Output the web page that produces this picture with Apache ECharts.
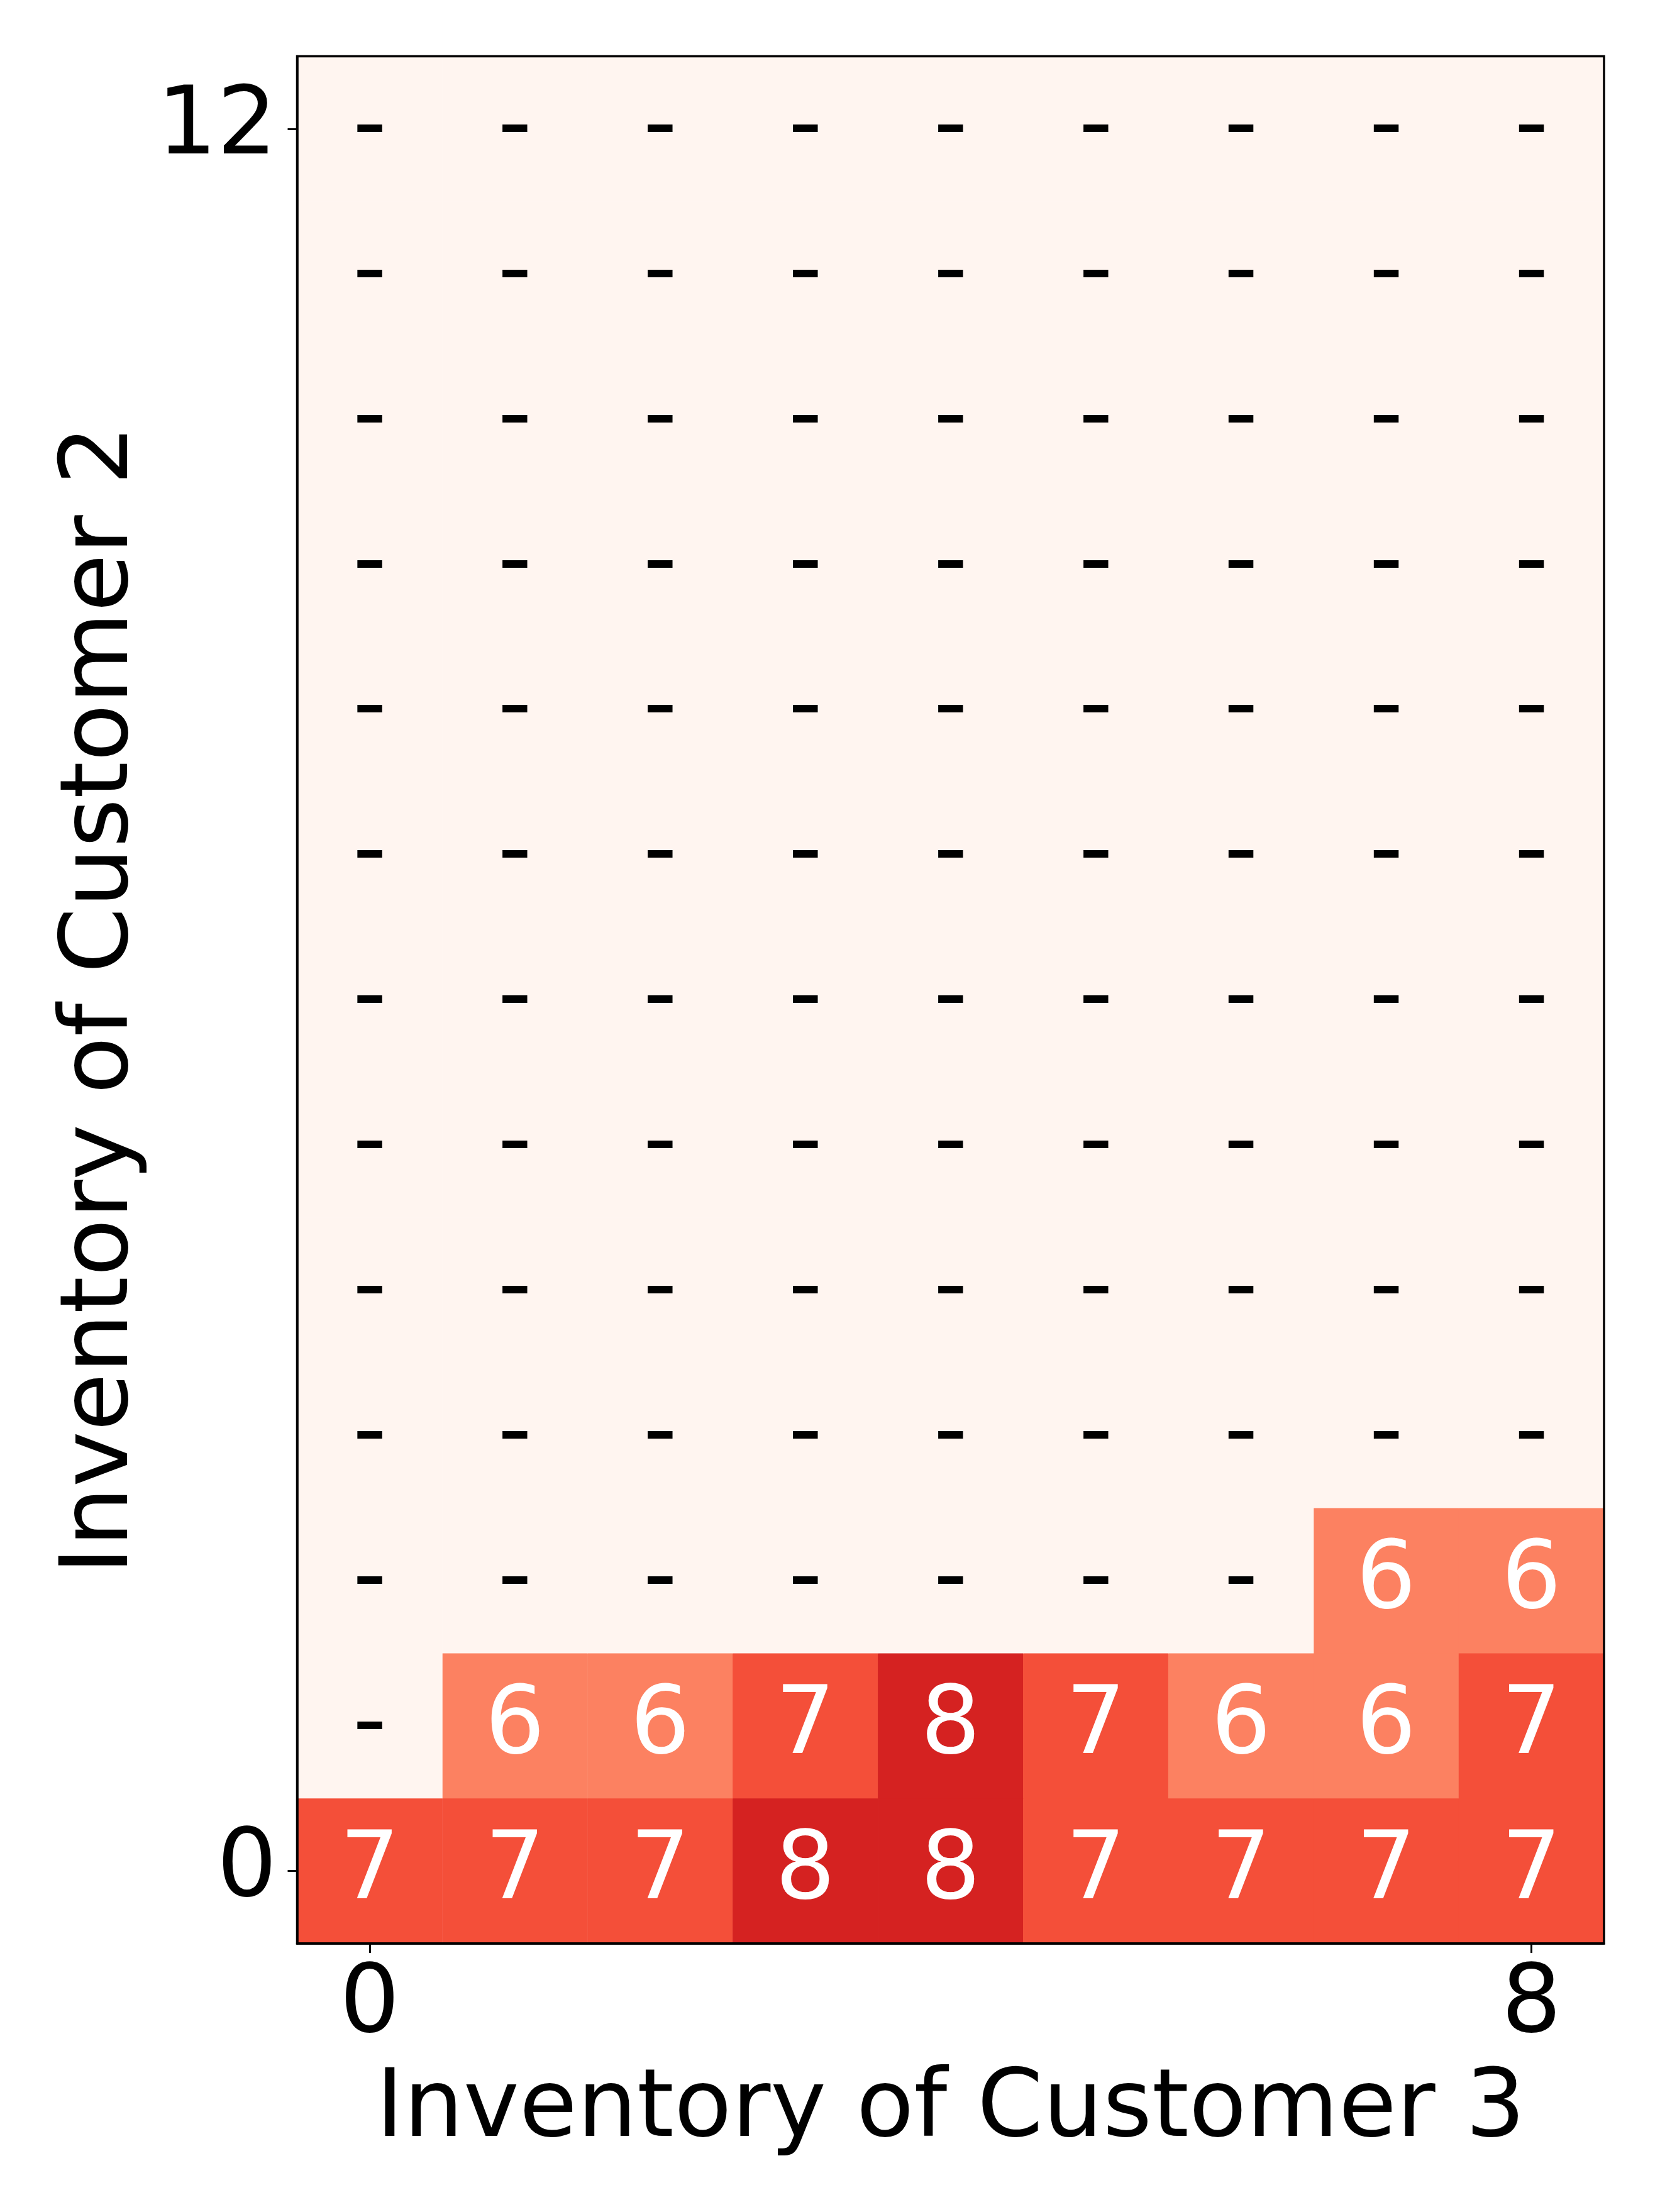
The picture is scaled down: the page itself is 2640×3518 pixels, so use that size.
<!DOCTYPE html>
<html>
<head>
<meta charset="utf-8">
<script src="https://cdn.jsdelivr.net/npm/echarts@6/dist/echarts.min.js"></script>
<style>
    html, body { margin: 0; padding: 0; background: #fff; }
    #chart { width: 2640px; height: 3518px; }
</style>
</head>
<body>
<div id="chart"></div>
<script>
// axis categories
const customer3Inv = ['0', '1', '2', '3', '4', '5', '6', '7', '8'];
const customer2Inv = ['0', '1', '2', '3', '4', '5', '6', '7', '8', '9', '10', '11', '12'];
const xTicksShown = ['0', '8'];
const yTicksShown = ['0', '12'];

// order quantity, one row per inventory level of customer 2 (null = '-')
const orderQty = [
    [7, 7, 7, 8, 8, 7, 7, 7, 7],
    [null, 6, 6, 7, 8, 7, 6, 6, 7],
    [null, null, null, null, null, null, null, 6, 6],
    [null, null, null, null, null, null, null, null, null],
    [null, null, null, null, null, null, null, null, null],
    [null, null, null, null, null, null, null, null, null],
    [null, null, null, null, null, null, null, null, null],
    [null, null, null, null, null, null, null, null, null],
    [null, null, null, null, null, null, null, null, null],
    [null, null, null, null, null, null, null, null, null],
    [null, null, null, null, null, null, null, null, null],
    [null, null, null, null, null, null, null, null, null],
    [null, null, null, null, null, null, null, null, null]
];

// matplotlib "Reds"
const reds = ['#fff5f0', '#fee0d2', '#fcbba1', '#fc9272', '#fb6a4a', '#ef3b2c', '#cb181d', '#a50f15', '#67000d'];

const FONT = 'DejaVu Sans';

const valued = [];
const missing = [];
orderQty.forEach((row, y) => {
    row.forEach((v, x) => {
        if (v === null) missing.push([x, y, 0]);
        else valued.push([x, y, v]);
    });
});

const tickFilter = (shown, cats) => (idx) => shown.indexOf(cats[idx]) !== -1;

const chart = echarts.init(document.getElementById('chart'), null, {renderer: 'canvas'});

chart.setOption({
    animation: false,
    backgroundColor: '#ffffff',
    grid: {
        left: 472.5,
        top: 89.5,
        width: 2078.5,
        height: 3001.5,
        show: true,
        z: 10,
        borderColor: '#000',
        borderWidth: 3.5,
        backgroundColor: 'transparent'
    },
    xAxis: {
        type: 'category',
        data: customer3Inv,
        z: 10,
        name: 'Inventory of Customer 3',
        nameLocation: 'middle',
        nameGap: 192,
        nameTextStyle: {fontFamily: FONT, fontSize: 150, color: '#000'},
        axisLine: {show: true, lineStyle: {color: '#000', width: 3.5}},
        axisTick: {show: true, alignWithLabel: true, length: 15, interval: tickFilter(xTicksShown, customer3Inv), lineStyle: {color: '#000', width: 3}},
        axisLabel: {interval: tickFilter(xTicksShown, customer3Inv), margin: 26, fontFamily: FONT, fontSize: 150, color: '#000'},
        splitLine: {show: false},
        splitArea: {show: false}
    },
    yAxis: {
        type: 'category',
        data: customer2Inv,
        z: 10,
        name: 'Inventory of Customer 2',
        nameLocation: 'middle',
        nameGap: 234,
        nameTextStyle: {fontFamily: FONT, fontSize: 150, color: '#000'},
        axisLine: {show: true, lineStyle: {color: '#000', width: 3.5}},
        axisTick: {show: true, alignWithLabel: true, length: 15, interval: tickFilter(yTicksShown, customer2Inv), lineStyle: {color: '#000', width: 3}},
        axisLabel: {interval: tickFilter(yTicksShown, customer2Inv), margin: 32, padding: [14, 0, 0, 0], fontFamily: FONT, fontSize: 150, color: '#000'},
        splitLine: {show: false},
        splitArea: {show: false}
    },
    visualMap: {
        type: 'continuous',
        show: false,
        seriesIndex: 0,
        dimension: 2,
        min: 3,
        max: 10,
        inRange: {color: reds}
    },
    series: [
        {
            type: 'heatmap',
            data: valued,
            label: {
                show: true,
                formatter: (p) => String(p.value[2]),
                fontFamily: FONT,
                fontSize: 150,
                color: '#fff',
                offset: [0, 4]
            },
            emphasis: {disabled: true}
        },
        {
            type: 'heatmap',
            data: missing,
            itemStyle: {color: reds[0]},
            label: {
                show: true,
                formatter: '-',
                fontFamily: FONT,
                fontSize: 150,
                color: '#000',
                offset: [0, 1]
            },
            emphasis: {disabled: true}
        }
    ]
});
</script>
</body>
</html>
